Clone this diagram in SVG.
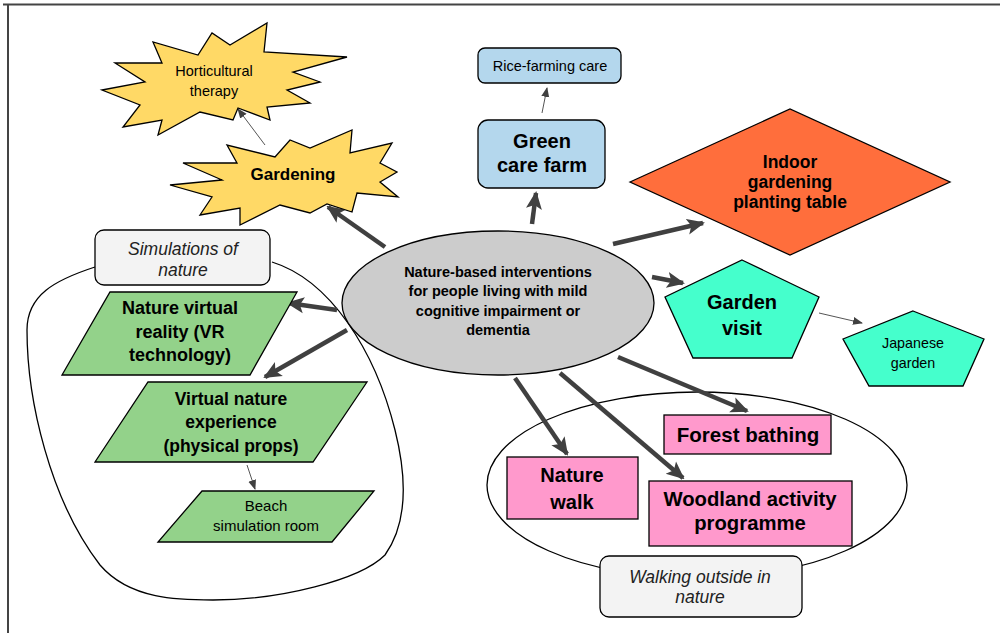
<svg xmlns="http://www.w3.org/2000/svg" width="1000" height="633" viewBox="0 0 1000 633">
<defs>
<style>
.t{font-family:"Liberation Sans",Arial,sans-serif;fill:#000;text-anchor:middle}
.b{font-weight:bold}
.i{font-style:italic;fill:#222}
.sh{stroke:#000;stroke-width:1.3}
.thick{stroke:#404040;stroke-width:4.5;fill:none;marker-end:url(#ah)}
.thin{stroke:#555;stroke-width:1;fill:none;marker-end:url(#as)}
</style>
<marker id="ah" markerUnits="userSpaceOnUse" markerWidth="18" markerHeight="18" viewBox="0 0 18 18" refX="16" refY="9" orient="auto"><path d="M0,1 L18,9 L0,17 L4,9 Z" fill="#404040"/></marker>
<marker id="as" markerUnits="userSpaceOnUse" markerWidth="10" markerHeight="10" viewBox="0 0 10 10" refX="9" refY="5" orient="auto"><path d="M0,1 L10,5 L0,9 Z" fill="#404040"/></marker>
</defs>
<rect width="1000" height="633" fill="#fff"/>
<path d="M3,4.5 H1000 M8,4.5 V633" stroke="#444" stroke-width="2" fill="none"/>

<g id="group-simulations">
<path d="M95,267 C55,280 27,295 27,330 C27,400 50,500 100,565 C130,600 180,600 213,600 C280,600 360,580 385,555 C410,520 405,470 395,430 C375,350 330,280 272,262" fill="none" stroke="#000" stroke-width="1.3"/>
</g>
<g id="group-walking">
<ellipse cx="697" cy="485" rx="210" ry="93" fill="none" stroke="#000" stroke-width="1.3"/>
</g>

<g id="connectors">
<line class="thick" x1="385" y1="247" x2="328" y2="207"/>
<line class="thick" x1="532" y1="224" x2="536" y2="193"/>
<line class="thick" x1="613" y1="244" x2="703" y2="223"/>
<line class="thick" x1="652" y1="277" x2="683" y2="283"/>
<line class="thick" x1="337" y1="310" x2="288" y2="303"/>
<line class="thick" x1="347" y1="330" x2="265" y2="377"/>
<line class="thick" x1="515" y1="378" x2="567" y2="454"/>
<line class="thick" x1="560" y1="373" x2="683" y2="478"/>
<line class="thick" x1="618" y1="357" x2="747" y2="411"/>
<line class="thin" x1="265" y1="145" x2="238" y2="109"/>
<line class="thin" x1="542" y1="113" x2="547" y2="88"/>
<line class="thin" x1="819" y1="313" x2="862" y2="323"/>
<line class="thin" x1="247" y1="465" x2="255" y2="489"/>
</g>

<g id="horticultural">
<polygon class="sh" fill="#ffd966" points="102,90 145,82 115,63 162,63 153,42 198,55 212,33 230,45 267,23 264,52 347,57 293,72 320,82 287,90 310,103 267,107 270,120 238,108 233,120 200,112 158,135 162,120 123,127 140,105"/>
<text class="t" font-size="14.5"><tspan x="214" y="76">Horticultural</tspan><tspan x="214" y="96">therapy</tspan></text>
</g>
<g id="gardening">
<polygon class="sh" fill="#ffd966" points="170,185 222,180 183,163 237,163 227,145 275,157 290,140 310,148 352,130 350,153 392,143 380,163 397,172 380,182 398,197 357,193 352,212 327,204 310,213 280,205 240,225 240,208 200,215 212,197"/>
<text class="t b" font-size="17" x="293" y="180">Gardening</text>
</g>
<g id="rice">
<rect class="sh" x="478" y="48" width="143" height="35" rx="7" fill="#b4d7ed"/>
<text class="t" font-size="14.5" x="550" y="71">Rice-farming care</text>
</g>
<g id="greencare">
<rect class="sh" x="478" y="120" width="127" height="68" rx="10" fill="#b4d7ed"/>
<text class="t b" font-size="20"><tspan x="542" y="148">Green</tspan><tspan x="542" y="172">care farm</tspan></text>
</g>
<g id="indoor">
<polygon class="sh" fill="#ff6e3c" points="630,182 790,109 950,182 790,255"/>
<text class="t b" font-size="17.5"><tspan x="790" y="168">Indoor</tspan><tspan x="790" y="188">gardening</tspan><tspan x="790" y="208">planting table</tspan></text>
</g>
<g id="gardenvisit">
<polygon class="sh" fill="#45ffcc" points="742,260 819,297 792,358 693,358 665,297"/>
<text class="t b" font-size="20"><tspan x="742" y="309">Garden</tspan><tspan x="742" y="335">visit</tspan></text>
</g>
<g id="japanese">
<polygon class="sh" fill="#45ffcc" points="913,311 984,339 963,386 869,386 843,339"/>
<text class="t" font-size="14.3"><tspan x="913" y="348">Japanese</tspan><tspan x="913" y="368">garden</tspan></text>
</g>
<g id="center">
<ellipse class="sh" cx="498" cy="303" rx="156" ry="72" fill="#cccccc"/>
<text class="t b" font-size="14.5"><tspan x="498" y="277">Nature-based interventions</tspan><tspan x="498" y="296">for people living with mild</tspan><tspan x="498" y="316">cognitive impairment or</tspan><tspan x="498" y="335">dementia</tspan></text>
</g>
<g id="simulations-label">
<rect class="sh" x="95" y="230" width="175" height="55" rx="9" fill="#f3f3f3"/>
<text class="t i" font-size="17.5"><tspan x="183" y="255">Simulations of</tspan><tspan x="183" y="276">nature</tspan></text>
</g>
<g id="vr">
<polygon class="sh" fill="#93d28a" points="110,292 297,292 250,375 62,375"/>
<text class="t b" font-size="18"><tspan x="180" y="314">Nature virtual</tspan><tspan x="180" y="338">reality (VR</tspan><tspan x="180" y="361">technology)</tspan></text>
</g>
<g id="virtualnature">
<polygon class="sh" fill="#93d28a" points="148,382 367,382 313,462 95,462"/>
<text class="t b" font-size="17.5"><tspan x="231" y="405">Virtual nature</tspan><tspan x="231" y="428">experience</tspan><tspan x="231" y="452">(physical props)</tspan></text>
</g>
<g id="beach">
<polygon class="sh" fill="#93d28a" points="202,491 374,491 332,542 158,542"/>
<text class="t" font-size="15"><tspan x="266" y="511">Beach</tspan><tspan x="266" y="531">simulation room</tspan></text>
</g>
<g id="forest">
<rect class="sh" x="664" y="415" width="167" height="39" fill="#ff99cc"/>
<text class="t b" font-size="20.5" x="748" y="442">Forest bathing</text>
</g>
<g id="naturewalk">
<rect class="sh" x="507" y="457" width="131" height="62" fill="#ff99cc"/>
<text class="t b" font-size="20"><tspan x="572" y="482">Nature</tspan><tspan x="572" y="509">walk</tspan></text>
</g>
<g id="woodland">
<rect class="sh" x="649" y="481" width="203" height="65" fill="#ff99cc"/>
<text class="t b" font-size="20.3"><tspan x="750" y="506">Woodland activity</tspan><tspan x="750" y="530">programme</tspan></text>
</g>
<g id="walking-label">
<rect class="sh" x="600" y="556" width="202" height="61" rx="9" fill="#f3f3f3"/>
<text class="t i" font-size="17.5"><tspan x="700" y="583">Walking outside in</tspan><tspan x="700" y="603">nature</tspan></text>
</g>
</svg>
